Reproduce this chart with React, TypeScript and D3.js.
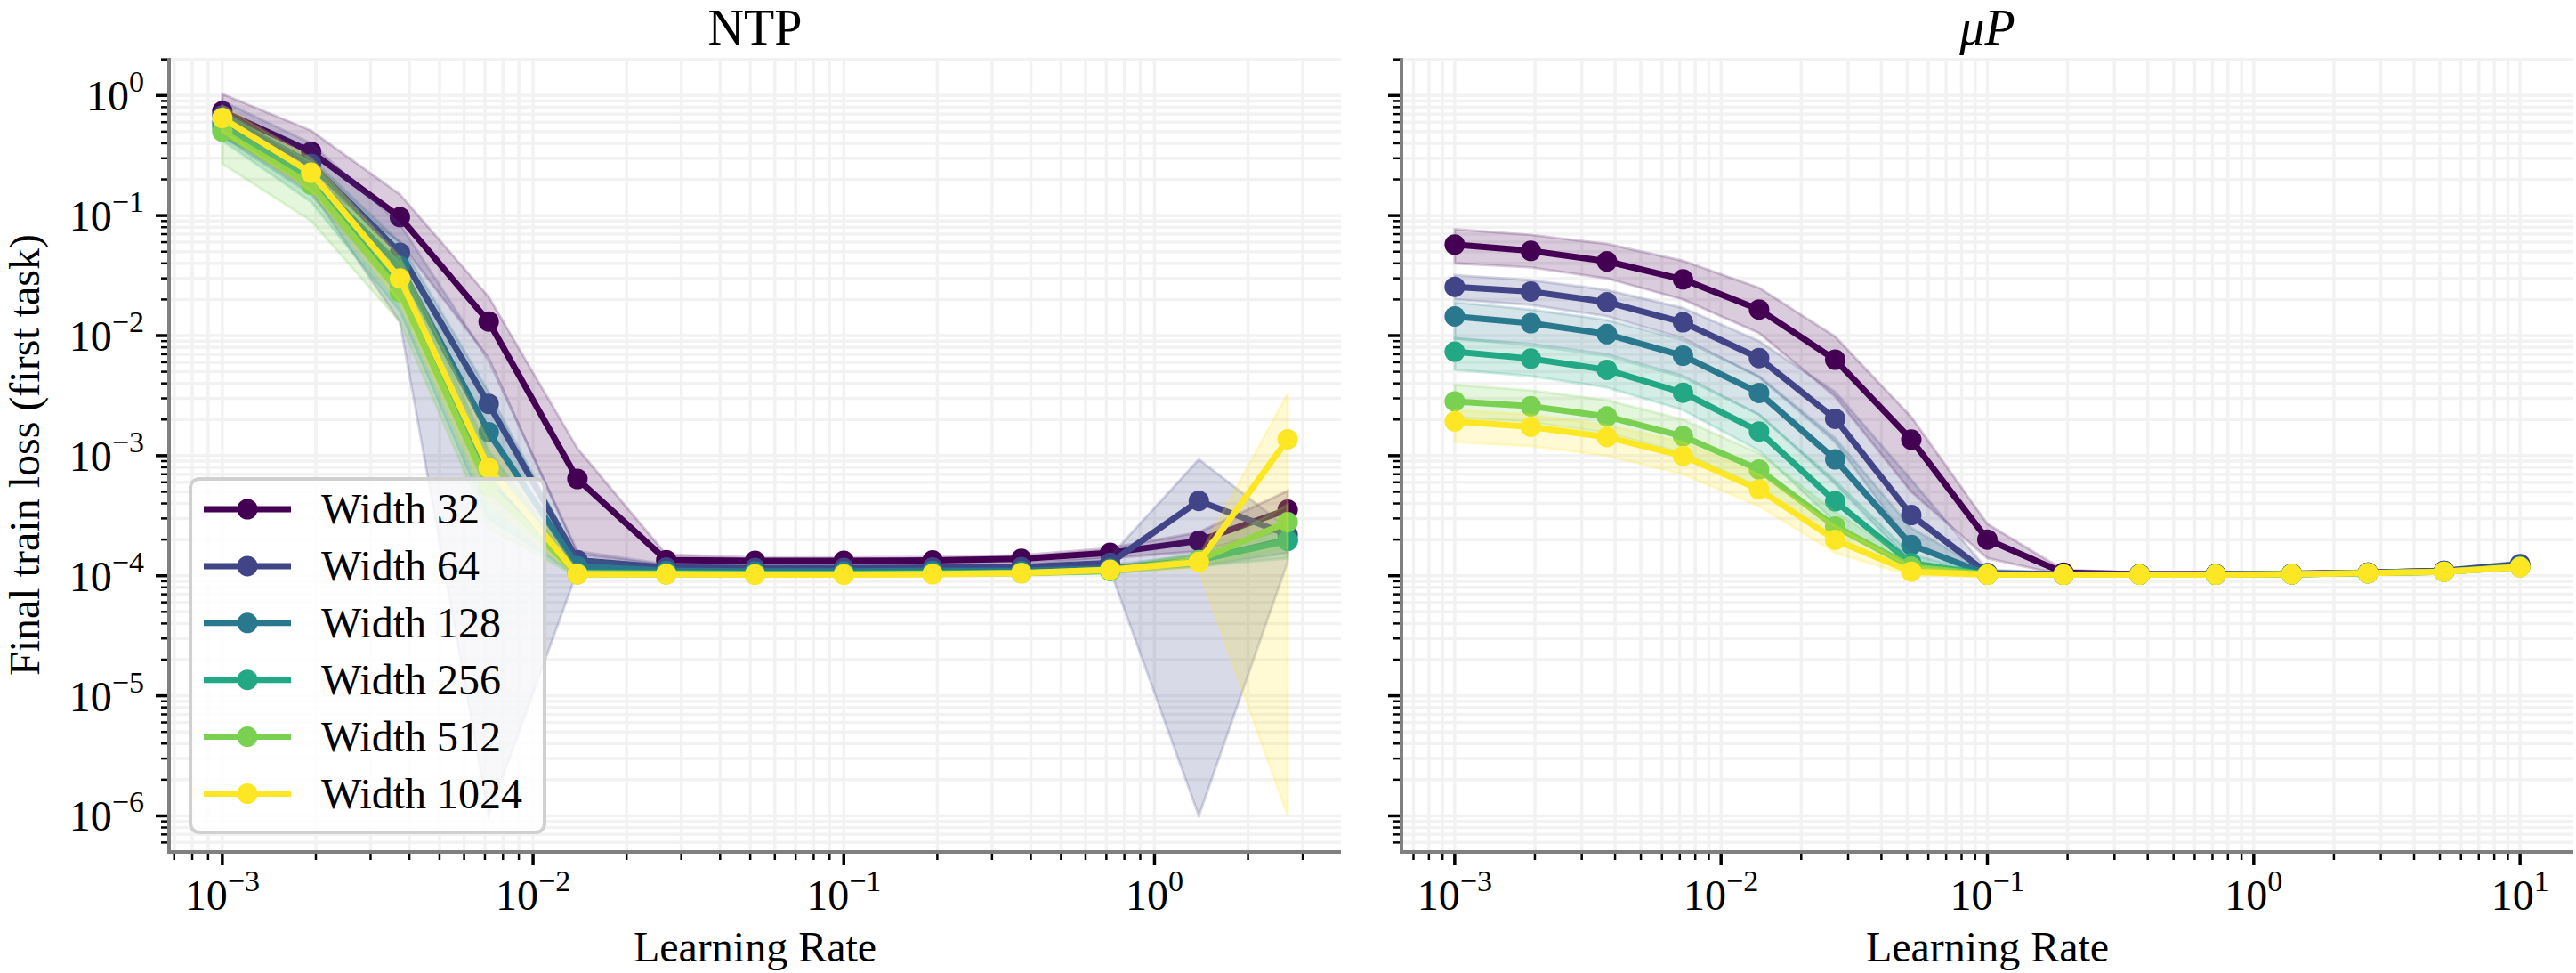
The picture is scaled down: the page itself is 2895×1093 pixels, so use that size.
import React from 'react';
import * as d3 from 'd3';

// ---- data -----------------------------------------------------------------
const WIDTHS = [32, 64, 128, 256, 512, 1024];
const COLORS = ['#440154', '#414487', '#2a788e', '#22a884', '#7ad151', '#fde725'];

const LR_NTP = [0.001, 0.001931, 0.003728, 0.007197, 0.01389, 0.02683, 0.05179, 0.1, 0.1931, 0.3728, 0.7197, 1.389, 2.683];
const LR_MUP = [0.001, 0.001931, 0.003728, 0.007197, 0.01389, 0.02683, 0.05179, 0.1, 0.1931, 0.3728, 0.7197, 1.389, 2.683, 5.179, 10];

// NTP: mean final loss and shaded band bounds per width
const NTP_W32 = [0.74, 0.34, 0.097, 0.0131, 6.4e-4, 1.35e-4, 1.33e-4, 1.33e-4, 1.34e-4, 1.38e-4, 1.55e-4, 1.95e-4, 3.55e-4];
const NTP_W32_HI = [1.03, 0.51, 0.15, 0.021, 1.15e-3, 1.5e-4, 1.42e-4, 1.42e-4, 1.43e-4, 1.48e-4, 1.7e-4, 2.3e-4, 5.1e-4];
const NTP_W32_LO = [0.45, 0.2, 0.06, 6.5e-3, 1.5e-4, 1.22e-4, 1.24e-4, 1.24e-4, 1.25e-4, 1.28e-4, 1.4e-4, 1.6e-4, 2.5e-4];

const NTP_W64 = [0.68, 0.27, 0.049, 2.7e-3, 1.35e-4, 1.17e-4, 1.16e-4, 1.16e-4, 1.17e-4, 1.18e-4, 1.28e-4, 4.2e-4, 2.2e-4];
const NTP_W64_HI = [0.9, 0.4, 0.085, 6.2e-3, 1.6e-4, 1.25e-4, 1.22e-4, 1.22e-4, 1.23e-4, 1.25e-4, 1.45e-4, 9.3e-4, 2.5e-4];
const NTP_W64_LO = [0.47, 0.16, 0.013, 1e-6, 1.1e-4, 1.1e-4, 1.1e-4, 1.1e-4, 1.1e-4, 1.11e-4, 1.12e-4, 1e-6, 1.3e-4];

const NTP_W128 = [0.6, 0.21, 0.038, 1.57e-3, 1.2e-4, 1.1e-4, 1.09e-4, 1.09e-4, 1.1e-4, 1.1e-4, 1.15e-4, 1.35e-4, 2.0e-4];
const NTP_W128_HI = [0.78, 0.3, 0.06, 3.4e-3, 1.4e-4, 1.15e-4, 1.14e-4, 1.14e-4, 1.15e-4, 1.16e-4, 1.22e-4, 1.5e-4, 2.5e-4];
const NTP_W128_LO = [0.45, 0.15, 0.022, 5e-4, 1.02e-4, 1.05e-4, 1.05e-4, 1.05e-4, 1.05e-4, 1.05e-4, 1.08e-4, 1.2e-4, 1.55e-4];

const NTP_W256 = [0.55, 0.2, 0.027, 6e-4, 1.05e-4, 1.05e-4, 1.04e-4, 1.04e-4, 1.05e-4, 1.06e-4, 1.1e-4, 1.35e-4, 1.95e-4];
const NTP_W256_HI = [0.72, 0.28, 0.042, 1.1e-3, 1.12e-4, 1.1e-4, 1.08e-4, 1.08e-4, 1.09e-4, 1.1e-4, 1.16e-4, 1.5e-4, 2.6e-4];
const NTP_W256_LO = [0.42, 0.13, 0.016, 3e-4, 1.0e-4, 1.01e-4, 1.0e-4, 1.0e-4, 1.01e-4, 1.02e-4, 1.05e-4, 1.2e-4, 1.4e-4];

const NTP_W512 = [0.5, 0.18, 0.023, 5.5e-4, 1.03e-4, 1.03e-4, 1.03e-4, 1.03e-4, 1.04e-4, 1.05e-4, 1.1e-4, 1.35e-4, 2.8e-4];
const NTP_W512_HI = [0.75, 0.28, 0.04, 1.0e-3, 1.1e-4, 1.08e-4, 1.07e-4, 1.07e-4, 1.08e-4, 1.09e-4, 1.16e-4, 1.55e-4, 3.9e-4];
const NTP_W512_LO = [0.27, 0.09, 0.013, 2.5e-4, 0.98e-4, 0.99e-4, 0.99e-4, 0.99e-4, 1.0e-4, 1.01e-4, 1.05e-4, 1.2e-4, 1.7e-4];

const NTP_W1024 = [0.65, 0.227, 0.03, 7.9e-4, 1.03e-4, 1.03e-4, 1.02e-4, 1.02e-4, 1.03e-4, 1.05e-4, 1.12e-4, 1.3e-4, 1.37e-3];
const NTP_W1024_HI = [0.82, 0.3, 0.045, 1.3e-3, 1.1e-4, 1.07e-4, 1.06e-4, 1.06e-4, 1.07e-4, 1.09e-4, 1.16e-4, 1.45e-4, 3.3e-3];
const NTP_W1024_LO = [0.5, 0.16, 0.019, 4e-4, 0.98e-4, 0.99e-4, 0.98e-4, 0.98e-4, 0.99e-4, 1.01e-4, 1.07e-4, 1.15e-4, 1e-6];

// muP: mean final loss and shaded band bounds per width
const MUP_W32 = [0.0573, 0.0508, 0.0416, 0.0294, 0.0165, 6.3e-3, 1.36e-3, 2.0e-4, 1.06e-4, 1.03e-4, 1.03e-4, 1.04e-4, 1.06e-4, 1.1e-4, 1.2e-4];
const MUP_W32_HI = [0.077, 0.069, 0.058, 0.042, 0.025, 9.8e-3, 2.1e-3, 2.7e-4, 1.12e-4, 1.06e-4, 1.06e-4, 1.07e-4, 1.09e-4, 1.14e-4, 1.25e-4];
const MUP_W32_LO = [0.04, 0.037, 0.03, 0.02, 0.0105, 3.1e-3, 5.0e-4, 1.4e-4, 1.01e-4, 1.0e-4, 1.0e-4, 1.01e-4, 1.03e-4, 1.06e-4, 1.15e-4];

const MUP_W64 = [0.0255, 0.0233, 0.019, 0.0129, 6.5e-3, 2.03e-3, 3.2e-4, 1.05e-4, 1.03e-4, 1.03e-4, 1.03e-4, 1.04e-4, 1.06e-4, 1.1e-4, 1.25e-4];
const MUP_W64_HI = [0.032, 0.029, 0.024, 0.017, 9e-3, 3.4e-3, 6.3e-4, 1.12e-4, 1.06e-4, 1.06e-4, 1.06e-4, 1.07e-4, 1.09e-4, 1.14e-4, 1.31e-4];
const MUP_W64_LO = [0.02, 0.018, 0.0145, 9.5e-3, 4.5e-3, 1.3e-3, 1.8e-4, 1.0e-4, 1.0e-4, 1.0e-4, 1.0e-4, 1.01e-4, 1.03e-4, 1.06e-4, 1.19e-4];

const MUP_W128 = [0.01445, 0.0127, 0.0103, 6.8e-3, 3.33e-3, 9.3e-4, 1.8e-4, 1.03e-4, 1.02e-4, 1.02e-4, 1.02e-4, 1.03e-4, 1.05e-4, 1.09e-4, 1.2e-4];
const MUP_W128_HI = [0.019, 0.0165, 0.0135, 9.2e-3, 4.6e-3, 1.4e-3, 2.5e-4, 1.08e-4, 1.05e-4, 1.05e-4, 1.05e-4, 1.06e-4, 1.08e-4, 1.13e-4, 1.25e-4];
const MUP_W128_LO = [0.0095, 0.0085, 0.007, 4.6e-3, 2.2e-3, 5.8e-4, 1.3e-4, 1.0e-4, 0.99e-4, 0.99e-4, 0.99e-4, 1.0e-4, 1.02e-4, 1.05e-4, 1.15e-4];

const MUP_W256 = [7.35e-3, 6.43e-3, 5.19e-3, 3.34e-3, 1.59e-3, 4.17e-4, 1.27e-4, 1.02e-4, 1.02e-4, 1.02e-4, 1.02e-4, 1.03e-4, 1.05e-4, 1.08e-4, 1.19e-4];
const MUP_W256_HI = [9.5e-3, 8.3e-3, 6.8e-3, 4.5e-3, 2.2e-3, 6.2e-4, 1.5e-4, 1.05e-4, 1.05e-4, 1.05e-4, 1.05e-4, 1.06e-4, 1.08e-4, 1.12e-4, 1.24e-4];
const MUP_W256_LO = [5.2e-3, 4.6e-3, 3.7e-3, 2.4e-3, 1.1e-3, 2.8e-4, 1.08e-4, 0.99e-4, 0.99e-4, 0.99e-4, 0.99e-4, 1.0e-4, 1.02e-4, 1.05e-4, 1.14e-4];

const MUP_W512 = [2.83e-3, 2.58e-3, 2.12e-3, 1.45e-3, 7.66e-4, 2.57e-4, 1.19e-4, 1.02e-4, 1.02e-4, 1.02e-4, 1.02e-4, 1.03e-4, 1.05e-4, 1.08e-4, 1.18e-4];
const MUP_W512_HI = [3.9e-3, 3.5e-3, 2.9e-3, 2.0e-3, 1.05e-3, 3.4e-4, 1.35e-4, 1.05e-4, 1.05e-4, 1.05e-4, 1.05e-4, 1.06e-4, 1.08e-4, 1.12e-4, 1.23e-4];
const MUP_W512_LO = [2.1e-3, 1.9e-3, 1.55e-3, 1.05e-3, 5.5e-4, 1.9e-4, 1.07e-4, 0.99e-4, 0.99e-4, 0.99e-4, 0.99e-4, 1.0e-4, 1.02e-4, 1.05e-4, 1.13e-4];

const MUP_W1024 = [1.93e-3, 1.74e-3, 1.43e-3, 9.95e-4, 5.23e-4, 1.99e-4, 1.08e-4, 1.02e-4, 1.02e-4, 1.02e-4, 1.02e-4, 1.03e-4, 1.05e-4, 1.08e-4, 1.18e-4];
const MUP_W1024_HI = [2.4e-3, 2.2e-3, 1.8e-3, 1.3e-3, 7e-4, 2.6e-4, 1.2e-4, 1.05e-4, 1.05e-4, 1.05e-4, 1.05e-4, 1.06e-4, 1.08e-4, 1.12e-4, 1.23e-4];
const MUP_W1024_LO = [1.3e-3, 1.2e-3, 1.0e-3, 7e-4, 3.8e-4, 1.55e-4, 1.0e-4, 0.99e-4, 0.99e-4, 0.99e-4, 0.99e-4, 1.0e-4, 1.02e-4, 1.05e-4, 1.13e-4];

const Y_LABEL = 'Final train loss (first task)';
const X_LABEL = 'Learning Rate';

// ---- assembled series --------------------------------------------------------
type Series = { width: number; color: string; mean: number[]; hi: number[]; lo: number[] };

const ntpSeries: Series[] = [
  { width: WIDTHS[0], color: COLORS[0], mean: NTP_W32, hi: NTP_W32_HI, lo: NTP_W32_LO },
  { width: WIDTHS[1], color: COLORS[1], mean: NTP_W64, hi: NTP_W64_HI, lo: NTP_W64_LO },
  { width: WIDTHS[2], color: COLORS[2], mean: NTP_W128, hi: NTP_W128_HI, lo: NTP_W128_LO },
  { width: WIDTHS[3], color: COLORS[3], mean: NTP_W256, hi: NTP_W256_HI, lo: NTP_W256_LO },
  { width: WIDTHS[4], color: COLORS[4], mean: NTP_W512, hi: NTP_W512_HI, lo: NTP_W512_LO },
  { width: WIDTHS[5], color: COLORS[5], mean: NTP_W1024, hi: NTP_W1024_HI, lo: NTP_W1024_LO },
];
const mupSeries: Series[] = [
  { width: WIDTHS[0], color: COLORS[0], mean: MUP_W32, hi: MUP_W32_HI, lo: MUP_W32_LO },
  { width: WIDTHS[1], color: COLORS[1], mean: MUP_W64, hi: MUP_W64_HI, lo: MUP_W64_LO },
  { width: WIDTHS[2], color: COLORS[2], mean: MUP_W128, hi: MUP_W128_HI, lo: MUP_W128_LO },
  { width: WIDTHS[3], color: COLORS[3], mean: MUP_W256, hi: MUP_W256_HI, lo: MUP_W256_LO },
  { width: WIDTHS[4], color: COLORS[4], mean: MUP_W512, hi: MUP_W512_HI, lo: MUP_W512_LO },
  { width: WIDTHS[5], color: COLORS[5], mean: MUP_W1024, hi: MUP_W1024_HI, lo: MUP_W1024_LO },
];

// ---- layout -------------------------------------------------------------------
const FIG_W = 2895;
const FIG_H = 1093;
const AX_TOP = 65;
const AX_BOTTOM = 957;
const FONT = "'Liberation Serif', 'Times New Roman', serif";
const TICK_FS = 48;
const SUP_FS = 34;
const LINE_W = 7;
const MARKER_R = 11.5;

// log-space autoscale with 5% margins
function logDomain(values: number[]): [number, number] {
  const lo = Math.log10(d3.min(values)!);
  const hi = Math.log10(d3.max(values)!);
  const m = (hi - lo) * 0.05;
  return [Math.pow(10, lo - m), Math.pow(10, hi + m)];
}

const allY = [...ntpSeries, ...mupSeries].flatMap((s) => [...s.hi, ...s.lo, ...s.mean]);
const Y_DOMAIN = logDomain(allY);
const yScale = d3.scaleLog().domain(Y_DOMAIN).range([AX_BOTTOM, AX_TOP]);

function logTicks(domain: [number, number]) {
  const [a, b] = domain;
  const out: { v: number; major: boolean; exp: number }[] = [];
  for (let e = Math.floor(Math.log10(a)); e <= Math.ceil(Math.log10(b)); e++) {
    for (let m = 1; m <= 9; m++) {
      const v = m * Math.pow(10, e);
      if (v >= a * 0.9999 && v <= b * 1.0001) out.push({ v, major: m === 1, exp: e });
    }
  }
  return out;
}

function Pow10({ exp, x, y, anchor }: { exp: number; x: number; y: number; anchor: string }) {
  const sup = exp < 0 ? `\u2212${-exp}` : `${exp}`;
  return (
    <text x={x} y={y} textAnchor={anchor} fontFamily={FONT} fontSize={TICK_FS} fill="#000">
      <tspan>10</tspan>
      <tspan fontSize={SUP_FS} dy={-21}>{sup}</tspan>
    </text>
  );
}

type PanelProps = {
  left: number;
  right: number;
  lr: number[];
  series: Series[];
  title: React.ReactNode;
  yLabels: boolean;
  legend: boolean;
  id: string;
};

function Panel({ left, right, lr, series, title, yLabels, legend, id }: PanelProps) {
  const xDomain = logDomain(lr);
  const x = d3.scaleLog().domain(xDomain).range([left, right]);
  const xt = logTicks(xDomain);
  const yt = logTicks(Y_DOMAIN);
  const line = d3
    .line<number>()
    .x((_, i) => x(lr[i]))
    .y((d) => yScale(d));
  const bandPath = (s: Series) =>
    d3
      .area<number>()
      .x((_, i) => x(lr[i]))
      .y0((_, i) => yScale(s.lo[i]))
      .y1((_, i) => yScale(s.hi[i]))(s.hi) as string;
  const cx = (left + right) / 2;

  return (
    <g>
      <defs>
        <clipPath id={id}>
          <rect x={left} y={AX_TOP} width={right - left} height={AX_BOTTOM - AX_TOP} />
        </clipPath>
      </defs>
      {/* grid */}
      <g stroke="#f2f2f2" strokeWidth={3.5}>
        {xt.map((t, i) => (
          <line key={'gx' + i} x1={x(t.v)} x2={x(t.v)} y1={AX_TOP} y2={AX_BOTTOM} />
        ))}
        {yt.map((t, i) => (
          <line key={'gy' + i} x1={left} x2={right} y1={yScale(t.v)} y2={yScale(t.v)} />
        ))}
      </g>
      {/* bands and lines */}
      <g clipPath={`url(#${id})`}>
        {series.map((s) => (
          <g key={s.width}>
            <path
              d={bandPath(s)}
              fill={s.color}
              fillOpacity={0.2}
              stroke={s.color}
              strokeOpacity={0.2}
              strokeWidth={3}
            />
            <path d={line(s.mean) as string} fill="none" stroke={s.color} strokeWidth={LINE_W} strokeLinejoin="round" />
            {s.mean.map((v, i) => (
              <circle key={i} cx={x(lr[i])} cy={yScale(v)} r={MARKER_R} fill={s.color} />
            ))}
          </g>
        ))}
      </g>
      {/* spines */}
      <line x1={left} x2={left} y1={AX_TOP} y2={AX_BOTTOM + 2} stroke="#808080" strokeWidth={4} />
      <line x1={left - 2} x2={right} y1={AX_BOTTOM} y2={AX_BOTTOM} stroke="#808080" strokeWidth={4} />
      {/* x ticks */}
      {xt.map((t, i) => (
        <line
          key={'xt' + i}
          x1={x(t.v)}
          x2={x(t.v)}
          y1={AX_BOTTOM + 2}
          y2={AX_BOTTOM + (t.major ? 15 : 9)}
          stroke="#000"
          strokeWidth={t.major ? 3.5 : 2.5}
        />
      ))}
      {xt
        .filter((t) => t.major)
        .map((t, i) => (
          <Pow10 key={'xl' + i} exp={t.exp} x={x(t.v)} y={1022} anchor="middle" />
        ))}
      {/* y ticks */}
      {yt.map((t, i) => (
        <line
          key={'yt' + i}
          x1={left - 2}
          x2={left - (t.major ? 15 : 9)}
          y1={yScale(t.v)}
          y2={yScale(t.v)}
          stroke="#000"
          strokeWidth={t.major ? 3.5 : 2.5}
        />
      ))}
      {yLabels &&
        yt
          .filter((t) => t.major)
          .map((t, i) => <Pow10 key={'yl' + i} exp={t.exp} x={left - 28} y={yScale(t.v) + 17} anchor="end" />)}
      {/* titles */}
      <text x={cx} y={50} textAnchor="middle" fontFamily={FONT} fontSize={56} fill="#000">
        {title}
      </text>
      <text x={cx} y={1080} textAnchor="middle" fontFamily={FONT} fontSize={TICK_FS} fill="#000">
        {X_LABEL}
      </text>
      {legend && (
        <g>
          <rect x={214} y={538} width={398} height={397} rx={10} fill="#fff" fillOpacity={0.8} stroke="#d0d0d0" strokeWidth={4} />
          {series.map((s, i) => {
            const ly = 572 + i * 63.9;
            return (
              <g key={'lg' + s.width}>
                <line x1={229} x2={327} y1={ly} y2={ly} stroke={s.color} strokeWidth={LINE_W} />
                <circle cx={278} cy={ly} r={MARKER_R} fill={s.color} />
                <text x={361} y={ly + 16} fontFamily={FONT} fontSize={TICK_FS} fill="#000">
                  {`Width ${s.width}`}
                </text>
              </g>
            );
          })}
        </g>
      )}
    </g>
  );
}

export default function App() {
  return (
    <svg
      width={FIG_W}
      height={FIG_H}
      viewBox={`0 0 ${FIG_W} ${FIG_H}`}
      style={{ position: 'absolute', left: 0, top: 0, background: '#fff' }}
    >
      <rect x={0} y={0} width={FIG_W} height={FIG_H} fill="#fff" />
      <Panel id="clipNtp" left={190} right={1507} lr={LR_NTP} series={ntpSeries} title="NTP" yLabels legend />
      <Panel
        id="clipMup"
        left={1575}
        right={2892}
        lr={LR_MUP}
        series={mupSeries}
        title={<tspan fontStyle="italic">μP</tspan>}
        yLabels={false}
        legend={false}
      />
      <text
        transform={`translate(44, ${(AX_TOP + AX_BOTTOM) / 2}) rotate(-90)`}
        textAnchor="middle"
        fontFamily={FONT}
        fontSize={TICK_FS}
        fill="#000"
      >
        {Y_LABEL}
      </text>
    </svg>
  );
}
